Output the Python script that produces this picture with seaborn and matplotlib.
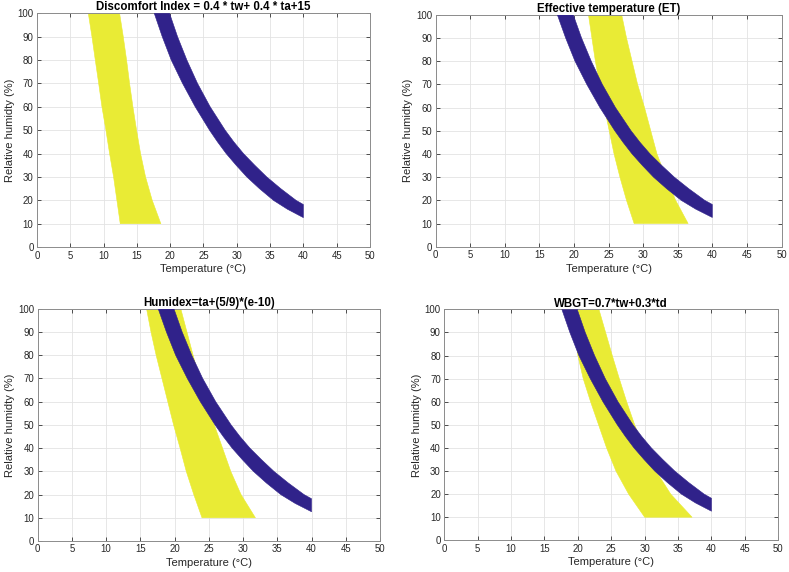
import matplotlib
matplotlib.use("Agg")
import matplotlib.pyplot as plt
import seaborn as sns
import pandas as pd

# relative humidity levels at which the yellow band edges were read
rh_levels = [100, 90, 80, 70, 60, 50, 40, 30, 20, 10]

titles = [
    "Discomfort Index = 0.4 * tw+ 0.4 * ta+15",
    "Effective temperature (ET)",
    "Humidex=ta+(5/9)*(e-10)",
    "WBGT=0.7*tw+0.3*td",
]

# yellow band: left / right temperature edge per panel
di_left = [7.7, 8.25, 8.75, 9.26, 9.75, 10.35, 10.9, 11.5, 12.0, 12.5]
di_right = [12.4, 12.95, 13.45, 13.9, 14.4, 14.95, 15.55, 16.3, 17.3, 18.6]
et_left = [22.1, 22.6, 23.1, 23.7, 24.4, 25.1, 25.8, 26.65, 27.6, 28.7]
et_right = [26.9, 27.6, 28.4, 29.2, 30.2, 31.1, 32.0, 33.3, 34.7, 36.5]
hx_left = [15.9, 16.55, 17.3, 18.15, 19.0, 19.85, 20.8, 21.7, 22.8, 24.0]
hx_right = [20.9, 21.8, 22.7, 23.6, 24.6, 25.8, 27.0, 28.2, 29.7, 31.8]
wb_left = [19.3, 19.6, 20.0, 20.8, 21.9, 23.1, 24.3, 25.7, 27.6, 30.0]
wb_right = [23.15, 24.15, 25.15, 26.2, 27.3, 28.5, 29.9, 31.7, 33.9, 37.1]

yellow_left = [di_left, et_left, hx_left, wb_left]
yellow_right = [di_right, et_right, hx_right, wb_right]

# blue band (same in every panel): lower and upper edges
blue_lower_t = [17.6, 18.8, 20.15, 21.85, 23.75, 25.9, 27.1, 28.4, 29.9, 31.5,
                33.4, 35.5, 37.6, 40.0]
blue_lower_rh = [100, 90, 80, 70, 60, 50, 45, 40, 35, 30, 25, 20, 16.2, 12.6]
blue_upper_t = [19.9, 21.1, 22.5, 24.1, 26.0, 28.25, 29.55, 31.0, 32.7, 34.5,
                36.6, 38.9, 40.0]
blue_upper_rh = [100, 90, 80, 70, 60, 50, 45, 40, 35, 30, 25, 20, 18.2]

YELLOW = "#E9EB35"
BLUE = "#30228A"

sns.set_theme(style="whitegrid")
plt.rcParams["font.family"] = ["Liberation Sans", "DejaVu Sans"]

fig = plt.figure(figsize=(7.89, 5.72), dpi=100)
positions = [
    [0.0469, 0.568, 0.422, 0.409],
    [0.552, 0.5687, 0.4385, 0.4056],
    [0.0478, 0.0542, 0.4338, 0.406],
    [0.5631, 0.0554, 0.4233, 0.4038],
]

blue_poly = pd.DataFrame({
    "t": blue_lower_t + blue_upper_t[::-1],
    "rh": blue_lower_rh + blue_upper_rh[::-1],
})

for i in range(4):
    ax = fig.add_axes(positions[i])
    ax.set_facecolor("white")

    yel = pd.DataFrame({
        "t": yellow_left[i] + yellow_right[i][::-1],
        "rh": rh_levels + rh_levels[::-1],
    })
    ax.fill(yel["t"], yel["rh"], color=YELLOW, lw=0, zorder=2)
    sns.lineplot(data=yel, x="t", y="rh", sort=False, estimator=None,
                 color=YELLOW, lw=0.4, ax=ax, zorder=2)

    ax.fill(blue_poly["t"], blue_poly["rh"], color=BLUE, lw=0, zorder=3)
    sns.lineplot(data=blue_poly, x="t", y="rh", sort=False, estimator=None,
                 color=BLUE, lw=0.4, ax=ax, zorder=3)

    ax.set_xlim(0, 50)
    ax.set_ylim(0, 100)
    ax.set_xticks(range(0, 51, 5))
    ax.set_yticks(range(0, 101, 10))
    ax.grid(True, color="#E3E3E3", lw=0.6)
    ax.set_axisbelow(True)
    for s in ax.spines.values():
        s.set_color("#8C8C8C")
        s.set_linewidth(0.7)
    ax.tick_params(direction="in", length=3, width=0.6, color="#333333",
                   labelsize=6.9, labelcolor="#262626", pad=2.5,
                   top=True, right=True, bottom=True, left=True)
    ax.set_xlabel("Temperature (°C)", fontsize=8, color="#262626", labelpad=2.5)
    ax.set_ylabel("Relative humidty (%)", fontsize=8, color="#262626", labelpad=2)
    ax.set_title(titles[i], fontsize=8.3, fontweight="bold", color="black", pad=2)

fig.savefig("out.png", dpi=100, facecolor="white")
plt.close(fig)
